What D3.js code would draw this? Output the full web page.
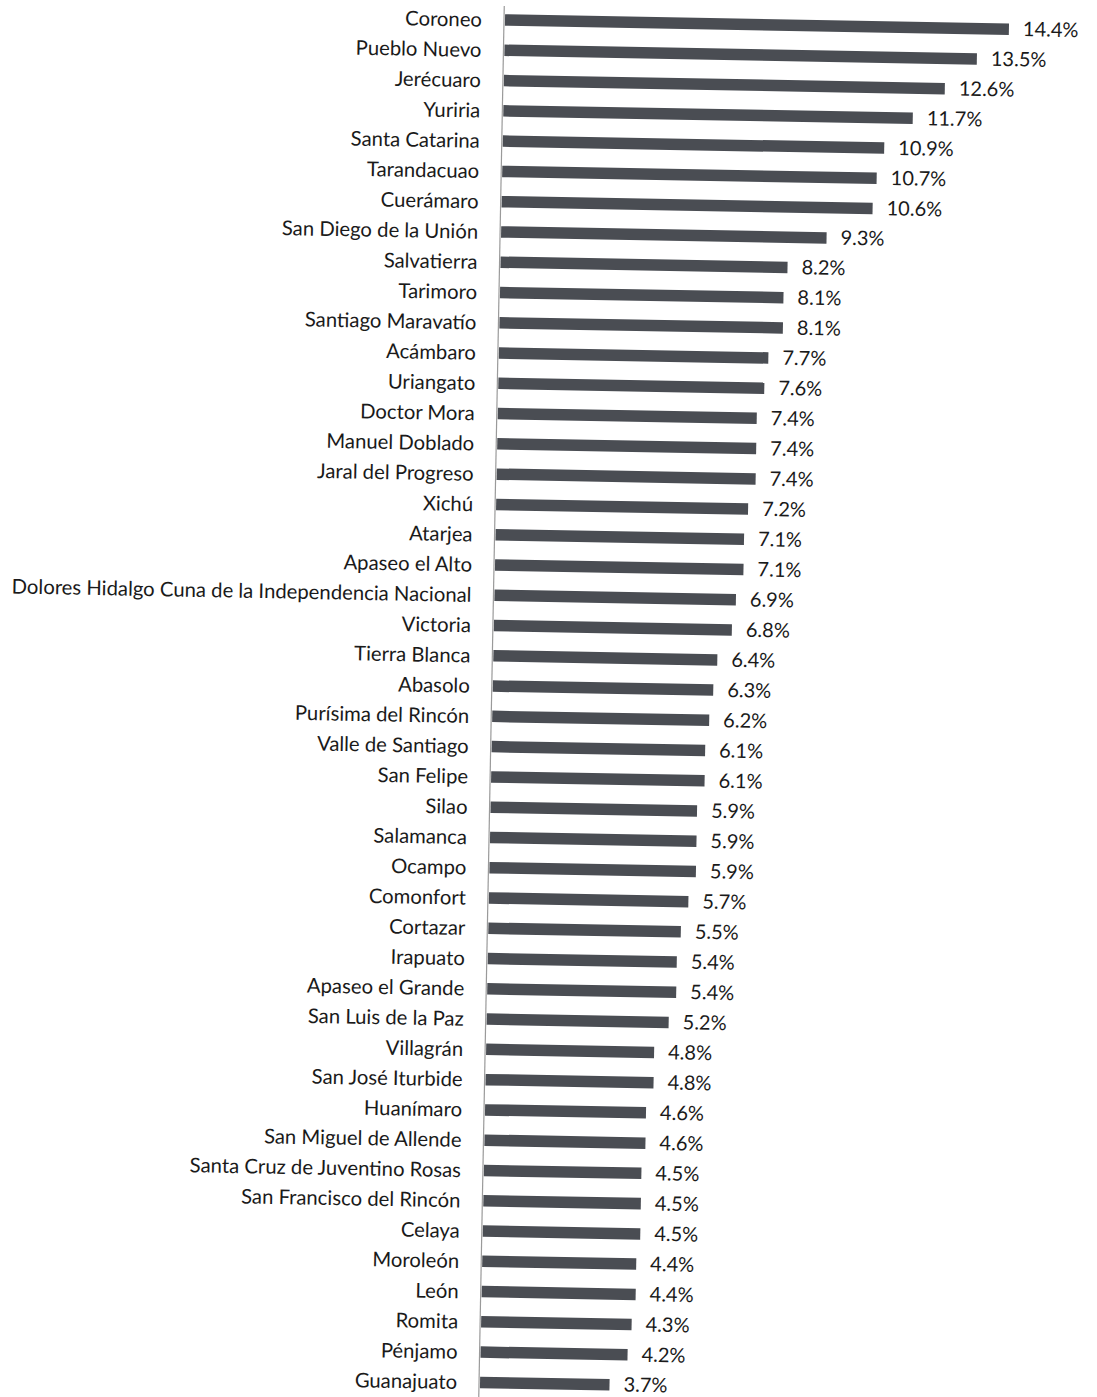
<!DOCTYPE html>
<html>
<head>
<meta charset="utf-8">
<script src="https://cdn.jsdelivr.net/npm/d3@7"></script>
<style>
  body { margin: 0; background: #fff; }
  text { font-family: Lato, "Open Sans", sans-serif; fill: #1a1a1a; }
</style>
</head>
<body>
<div id="chart"></div>
<script>
// Municipios
var categories = [
  "Coroneo", "Pueblo Nuevo", "Jerécuaro", "Yuriria", "Santa Catarina",
  "Tarandacuao", "Cuerámaro", "San Diego de la Unión", "Salvatierra", "Tarimoro",
  "Santiago Maravatío", "Acámbaro", "Uriangato", "Doctor Mora", "Manuel Doblado",
  "Jaral del Progreso", "Xichú", "Atarjea", "Apaseo el Alto",
  "Dolores Hidalgo Cuna de la Independencia Nacional", "Victoria", "Tierra Blanca",
  "Abasolo", "Purísima del Rincón", "Valle de Santiago", "San Felipe", "Silao",
  "Salamanca", "Ocampo", "Comonfort", "Cortazar", "Irapuato", "Apaseo el Grande",
  "San Luis de la Paz", "Villagrán", "San José Iturbide", "Huanímaro",
  "San Miguel de Allende", "Santa Cruz de Juventino Rosas", "San Francisco del Rincón",
  "Celaya", "Moroleón", "León", "Romita", "Pénjamo", "Guanajuato"
];

// Porcentajes
var values = [
  14.4, 13.5, 12.6, 11.7, 10.9,
  10.7, 10.6, 9.3, 8.2, 8.1,
  8.1, 7.7, 7.6, 7.4, 7.4,
  7.4, 7.2, 7.1, 7.1,
  6.9, 6.8, 6.4,
  6.3, 6.2, 6.1, 6.1, 5.9,
  5.9, 5.9, 5.7, 5.5, 5.4, 5.4,
  5.2, 4.8, 4.8, 4.6,
  4.6, 4.5, 4.5,
  4.5, 4.4, 4.4, 4.3, 4.2, 3.7
];

var data = categories.map(function(c, i) { return { name: c, value: values[i] }; });

var width = 1097,
    height = 1397;

// axis origin (scan is slightly rotated)
var originX = 504,
    originY = 20,
    skew = 1.05;

var rowStep = 30.28;

var svg = d3.select("#chart").append("svg")
  .attr("width", width)
  .attr("height", height);

var g = svg.append("g")
  .attr("transform", "translate(" + originX + "," + originY + ") rotate(" + skew + ")");

// Scales
var x = d3.scaleLinear()
  .domain([0, 14.4])
  .range([0, 504]);

var y = d3.scaleBand()
  .domain(categories)
  .range([-rowStep / 2, -rowStep / 2 + categories.length * rowStep])
  .paddingInner(0.62)
  .paddingOuter(0.31);

// Vertical axis line
g.append("line")
  .attr("x1", 0).attr("x2", 0)
  .attr("y1", -14).attr("y2", 1390)
  .attr("stroke", "#9a9a9a")
  .attr("stroke-width", 1.2);

// Bars
g.selectAll(".bar")
  .data(data).enter()
  .append("rect")
    .attr("class", "bar")
    .attr("x", 1)
    .attr("y", function(d) { return y(d.name); })
    .attr("width", function(d) { return x(d.value); })
    .attr("height", y.bandwidth())
    .attr("fill", "#4a4d53");

// Category labels
g.selectAll(".cat")
  .data(data).enter()
  .append("text")
    .attr("class", "cat")
    .attr("x", -22)
    .attr("y", function(d) { return y(d.name) + y.bandwidth() / 2; })
    .attr("dy", "0.35em")
    .attr("text-anchor", "end")
    .style("font-size", "20.3px")
    .text(function(d) { return d.name; });

// Value labels
g.selectAll(".val")
  .data(data).enter()
  .append("text")
    .attr("class", "val")
    .attr("x", function(d) { return x(d.value) + 15; })
    .attr("y", function(d) { return y(d.name) + y.bandwidth() / 2; })
    .attr("dy", "0.33em")
    .style("font-size", "20px")
    .text(function(d) { return d.value.toFixed(1) + "%"; });
</script>
</body>
</html>
